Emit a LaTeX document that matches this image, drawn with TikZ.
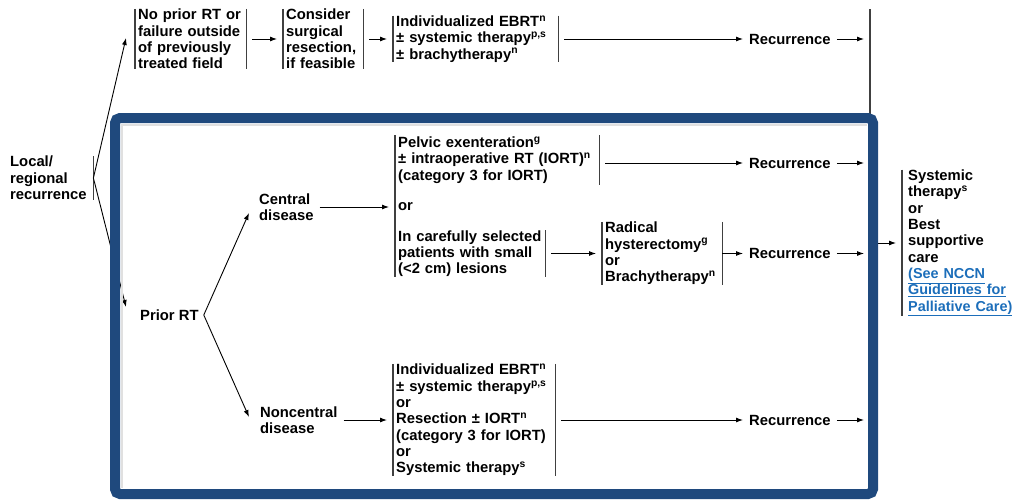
\documentclass[tikz,border=0pt]{standalone}
\usepackage{fontspec}
\setmainfont{Liberation Sans}
\usetikzlibrary{arrows.meta,positioning}
\definecolor{boxblue}{RGB}{31,73,125}
\definecolor{linkblue}{RGB}{28,110,186}
\newcommand{\sps}[1]{\textsuperscript{#1}}
\newcommand{\lnk}[1]{{\fontsize{14.4}{16.3}\selectfont\color{linkblue}\underline{#1}}}
\tikzset{
  txt/.style={inner sep=0pt, anchor=west, align=left},
  brk/.style={inner xsep=3pt, inner ysep=0pt, anchor=west, align=left},
  barline/.style={line width=1.2pt, black!75},
  arr/.style={-{Latex[length=7pt,width=5pt]}, line width=0.9pt, shorten <=6pt, shorten >=6pt},
  fan/.style={-{Latex[length=7pt,width=5pt]}, line width=0.9pt},
}
\begin{document}
\begin{tikzpicture}[x=1pt, y=-1pt, every node/.style={font=\fontsize{14.8}{16.3}\selectfont\bfseries}]
\useasboundingbox (0,0) rectangle (1015,501);
\node[txt, text width=83pt] (local) at (10,178) {Local/\\regional\\recurrence};
\node[brk, text width=105pt] (norft) at (135,39) {No prior RT or\\failure outside\\of previously\\treated field};
\node[brk, text width=74pt] (consider) at (283,39) {Consider\\surgical\\resection,\\if feasible};
\node[brk, text width=159pt, minimum height=45pt] (ebrt) at (393,39) {Individualized EBRT\sps{n}\\± systemic therapy\sps{p,s}\\± brachytherapy\sps{n}};
\node[txt] (rec1) at (749,39) {Recurrence};
\coordinate (ctop) at (870,9);
\coordinate (cbot) at (870,430);
  \node[txt] (priort) at (140,315) {Prior RT};
  \node[txt] (central) at (259,207) {Central\\disease};
  \node[txt] (noncentral) at (260,420) {Noncentral\\disease};
  \node[brk, text width=198pt, minimum height=49pt] (pelvic) at (395,160) {Pelvic exenteration\sps{g}\\± intraoperative RT (IORT)\sps{n}\\(category 3 for IORT)};
  \node[brk] (orc) at (395,207) {or};
  \node[brk, text width=144pt] (careful) at (395,253.5) {In carefully selected\\patients with small\\(<2 cm) lesions};
  \node[brk, text width=114pt, minimum height=61pt] (radical) at (602,253.5) {Radical\\hysterectomy\sps{g}\\or\\Brachytherapy\sps{n}};
  \node[txt] (rec2) at (749,163) {Recurrence};
  \node[txt] (rec3) at (749,253.5) {Recurrence};
  \node[brk, text width=156pt, minimum height=110pt] (nonc) at (393,420) {Individualized EBRT\sps{n}\\± systemic therapy\sps{p,s}\\or\\Resection ± IORT\sps{n}\\(category 3 for IORT)\\or\\Systemic therapy\sps{s}};
  \node[txt] (rec4) at (749,420) {Recurrence};
\node[brk, inner xsep=6pt, text width=104pt, minimum height=141pt] (sys) at (902,243) {Systemic\\therapy\sps{s}\\or\\Best\\supportive\\care\\\lnk{(See NCCN}\\\lnk{Guidelines for}\\\lnk{Palliative Care)}};
\draw[barline] (local.north east) -- (local.south east);
\draw[barline] (norft.north west) -- (norft.south west) (norft.north east) -- (norft.south east);
\draw[barline] (consider.north west) -- (consider.south west) (consider.north east) -- (consider.south east);
\draw[barline] (ebrt.north west) -- (ebrt.south west) (ebrt.north east) -- (ebrt.south east);
\draw[barline] (pelvic.north west) -- (careful.south west);
\draw[barline] (pelvic.north east) -- (pelvic.south east);
\draw[barline] (careful.north east) -- (careful.south east);
\draw[barline] (radical.north west) -- (radical.south west) (radical.north east) -- (radical.south east);
\draw[barline] (nonc.north west) -- (nonc.south west) (nonc.north east) -- (nonc.south east);
\draw[barline] (sys.north west) -- (sys.south west);
\draw[barline] (ctop) -- (cbot);
\coordinate (nin) at (126,38);
\coordinate (pin) at (126,307);
\draw[fan] (local.east) -- (nin);
\draw[fan] (local.east) -- (pin);
\coordinate (pv) at ([xshift=5pt]priort.east);
\coordinate (cin) at (249,213);
\coordinate (ncin) at (249,417);
\draw[fan] (pv) -- (cin);
\draw[fan] (pv) -- (ncin);
\draw[arr] (norft) -- (consider);
\draw[arr] (consider) -- (ebrt);
\draw[arr] (ebrt) -- (rec1);
\draw[arr] (rec1) -- (rec1 -| ctop);
\draw[arr] (rec2 -| pelvic.east) -- (rec2);
\draw[arr] (rec2) -- (rec2 -| ctop);
\draw[arr] (central) -- (orc);
\draw[arr] (careful) -- (radical);
\draw[arr, shorten <=0pt] (radical) -- (rec3);
\draw[arr] (rec3) -- (rec3 -| ctop);
\draw[arr] (noncentral) -- (nonc);
\draw[arr] (nonc) -- (rec4);
\draw[arr] (rec4) -- (rec4 -| ctop);
\draw[arr] (sys.west -| ctop) -- (sys);
\draw[black!12, line width=2pt] (121.5,488) -- (121.5,124.5) -- (867,124.5);
\draw[boxblue, line width=10pt, rounded corners=5pt] (115,118) rectangle (873,494);
\end{tikzpicture}
\end{document}
